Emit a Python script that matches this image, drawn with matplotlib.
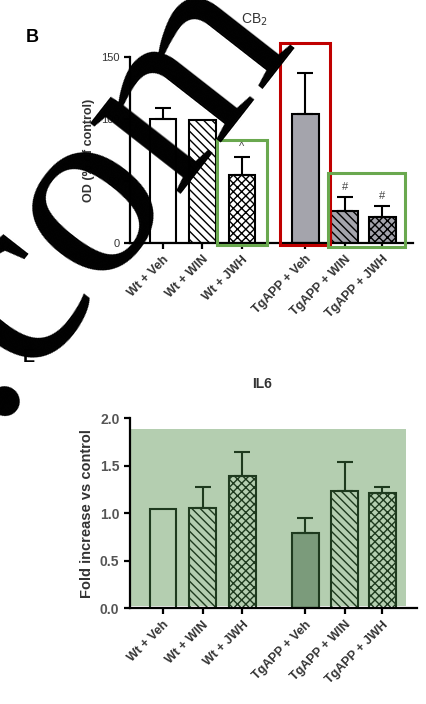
import matplotlib
matplotlib.use("Agg")
import matplotlib.pyplot as plt
from matplotlib.patches import Rectangle

plt.rcParams['font.family'] = ['Liberation Sans', 'DejaVu Sans']
plt.rcParams['hatch.linewidth'] = 1.0

# --- data ---
groups = ["Wt + Veh", "Wt + WIN", "Wt + JWH", "TgAPP + Veh", "TgAPP + WIN", "TgAPP + JWH"]
positions = [0, 1, 2, 3.6, 4.6, 5.55]
hatches = ["", "\\\\\\\\", "xxxx", "", "\\\\\\\\", "xxxx"]

# CB2 panel (OD, % of control)
cb2_mean = [100, 99, 55, 104, 26, 21]
cb2_err = [9, 0, 14, 33, 11, 9]
cb2_marks = ["", "", "^", "", "#", "#"]

# IL6 panel (fold increase vs control)
il6_mean = [1.04, 1.05, 1.39, 0.79, 1.23, 1.21]
il6_err = [0.0, 0.23, 0.25, 0.16, 0.31, 0.07]
il6_shade_top = 1.89

bar_w = 0.68

fig = plt.figure(figsize=(4.27, 7.04), dpi=100)


def style_axes(ax, lw=1.6):
    for s in ["top", "right"]:
        ax.spines[s].set_visible(False)
    for s in ["left", "bottom"]:
        ax.spines[s].set_linewidth(lw)
    ax.tick_params(width=lw, length=4)


# ---------------- panel B : CB2 ----------------
ax1 = fig.add_axes([0.304, 0.655, 0.663, 0.264])
cb2_fill = ["white", "white", "white", "#a4a4ac", "#a4a4ac", "#a4a4ac"]
for i in range(len(groups)):
    ax1.bar(positions[i], cb2_mean[i], width=bar_w, color=cb2_fill[i],
            edgecolor="black", linewidth=1.5, hatch=hatches[i], zorder=2)
    if cb2_err[i] > 0:
        ax1.errorbar(positions[i], cb2_mean[i], yerr=[[0], [cb2_err[i]]], fmt="none",
                     ecolor="black", elinewidth=1.5, capsize=6, capthick=1.5, zorder=3)
    if cb2_marks[i]:
        ax1.text(positions[i], cb2_mean[i] + cb2_err[i] + 4, cb2_marks[i],
                 ha="center", va="bottom", fontsize=8, color="#444444")


# coloured highlight boxes around groups of bars
def box(ax, i0, i1, top, color, left_pad=0.3, right_pad=0.3, bottom=-2):
    x0 = positions[i0] - bar_w / 2 - left_pad
    x1 = positions[i1] + bar_w / 2 + right_pad
    ax.add_patch(Rectangle((x0, bottom), x1 - x0, top - bottom, fill=False, edgecolor=color,
                           linewidth=2.2, clip_on=False, zorder=4))


box(ax1, 2, 2, cb2_mean[2] + cb2_err[2] + 14, "#6aa84f")
box(ax1, 3, 3, cb2_mean[3] + cb2_err[3] + 24, "#c00000")
box(ax1, 4, 5, cb2_mean[4] + cb2_err[4] + 19, "#6aa84f", left_pad=0.08, right_pad=0.25, bottom=-3)

ax1.set_xlim(-0.84, 6.33)
ax1.set_ylim(0, 150)
ax1.set_yticks([0, 50, 100, 150])
ax1.set_yticklabels(["0", "50", "100", "150"], fontsize=8, color="#333333")
ax1.set_xticks(positions)
ax1.set_xticklabels(groups, rotation=45, ha="right", rotation_mode="anchor",
                    fontsize=9, fontweight="bold", color="#333333")
style_axes(ax1)
ax1.set_ylabel("OD (% of control)", fontsize=9, fontweight="bold", color="#333333", labelpad=4)
ax1.set_title("CB$_2$", fontsize=10, color="#333333", pad=24, x=0.44)

# ---------------- panel E : IL6 ----------------
ax2 = fig.add_axes([0.304, 0.136, 0.673, 0.270])
dark = "#1e3a1e"
il6_fill = ["none", "none", "none", "#7b9b7b", "none", "none"]
shade_x0 = -0.84
shade_x1 = positions[-1] + bar_w / 2 + 0.25
ax2.add_patch(Rectangle((shade_x0, 0.02), shade_x1 - shade_x0, il6_shade_top - 0.02,
                        facecolor="#b4ceb0", edgecolor="none", zorder=0))
for i in range(len(groups)):
    ax2.bar(positions[i], il6_mean[i], width=bar_w, color=il6_fill[i],
            edgecolor=dark, linewidth=1.5, hatch=hatches[i], zorder=2)
    if il6_err[i] > 0:
        ax2.errorbar(positions[i], il6_mean[i], yerr=[[0], [il6_err[i]]], fmt="none",
                     ecolor=dark, elinewidth=1.5, capsize=6, capthick=1.5, zorder=3)

ax2.set_xlim(-0.84, 6.43)
ax2.set_ylim(0, 2.0)
ax2.set_yticks([0, 0.5, 1.0, 1.5, 2.0])
ax2.set_yticklabels(["0.0", "0.5", "1.0", "1.5", "2.0"], fontsize=10, fontweight="bold", color="#555555")
ax2.set_xticks(positions)
ax2.set_xticklabels(groups, rotation=45, ha="right", rotation_mode="anchor",
                    fontsize=9, fontweight="bold", color="#333333")
style_axes(ax2)
ax2.set_ylabel("Fold increase vs control", fontsize=10.5, fontweight="bold", color="#333333", labelpad=4)
ax2.set_title("IL6", fontsize=10, fontweight="bold", color="#333333", pad=22, x=0.46)

# panel letters
fig.text(32 / 427, 1 - 37 / 704, "B", fontsize=13, fontweight="bold", ha="center", va="center")
fig.text(29 / 427, 1 - 358 / 704, "E", fontsize=13, fontweight="bold", ha="center", va="center")

# watermark lying over the figure
fig.text(92 / 427, 1 - 188 / 704, ".com", fontsize=180, family="Liberation Serif",
         rotation=52, rotation_mode="anchor", ha="center", va="center", color="black", zorder=20)

fig.savefig("out.png", dpi=100)
